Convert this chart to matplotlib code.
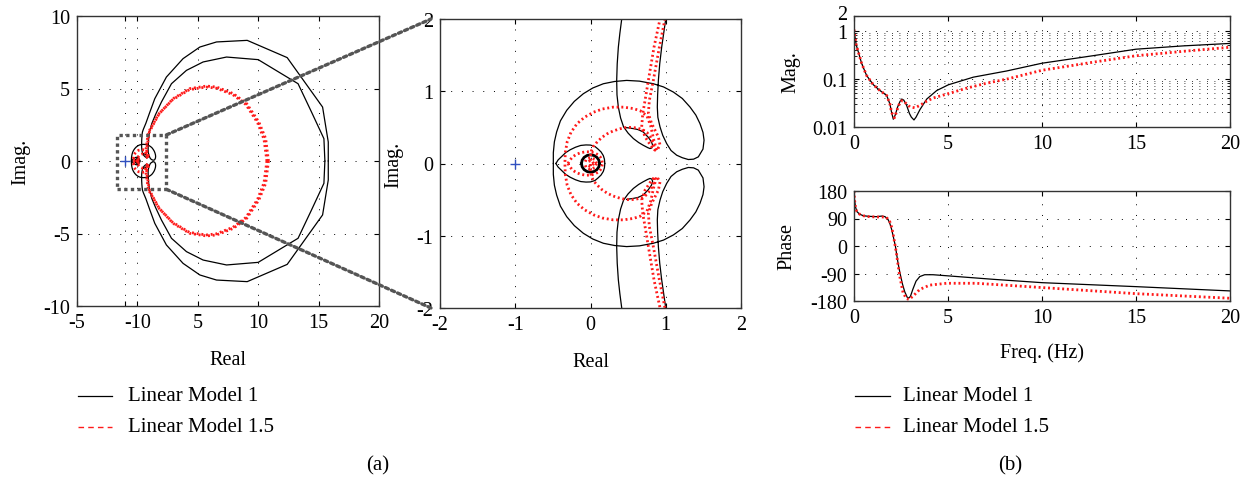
import numpy as np
import matplotlib
matplotlib.use("Agg")
import matplotlib.pyplot as plt
import matplotlib.transforms as mtransforms
from matplotlib.lines import Line2D
from matplotlib.patches import Rectangle, ConnectionPatch
from matplotlib.ticker import LogLocator, NullFormatter, FixedLocator, FixedFormatter

plt.rcParams["font.family"] = ["Liberation Serif", "DejaVu Serif"]
plt.rcParams["font.size"] = 14.5
plt.rcParams["axes.unicode_minus"] = False

# Nyquist curves, upper half (the lower half is the mirror image)
# Linear Model 1, outer loop
bo_x = [15.8, 15.8, 15.33, 12.4, 9.09, 6.55, 5.17, 3.78, 2.40, 1.44, 1.0, 0.7, 0.5, 0.415,
        0.39, 0.37, 0.355, 0.348, 0.352, 0.37, 0.40, 0.44, 0.50, 0.57, 0.64, 0.70, 0.76,
        0.79, 0.815, 0.826, 0.81, 0.77, 0.70, 0.63, 0.57, 0.52, 0.48]
bo_y = [0.0, 1.31, 3.72, 7.13, 8.32, 8.21, 7.86, 7.06, 5.79, 4.30, 3.3, 2.6, 2.2, 2.0,
        1.8, 1.61, 1.38, 1.15, 0.95, 0.78, 0.63, 0.506, 0.42, 0.345, 0.29, 0.253, 0.22,
        0.207, 0.215, 0.253, 0.30, 0.36, 0.437, 0.47, 0.483, 0.49, 0.497]
# Linear Model 1, inner loop (with the lobe and the circle round the origin)
bi_x = [15.52, 15.44, 14.4, 13.3, 10.0, 7.38, 5.44, 4.06, 2.82, 1.99, 1.5, 1.2, 1.0,
        0.975, 0.946, 0.92, 0.902, 0.892, 0.888, 0.895, 0.924, 0.96, 1.012, 1.07, 1.145,
        1.22, 1.30, 1.37, 1.433, 1.495, 1.509, 1.495, 1.455, 1.40, 1.322, 1.22, 1.101,
        0.97, 0.835, 0.65, 0.48, 0.32, 0.171, 0.03, -0.095, -0.215, -0.316, -0.40, -0.45,
        -0.48, -0.494, -0.494]
bi_y = [0.0, 1.54, 3.4, 5.33, 6.99, 7.17, 6.83, 6.25, 5.33, 4.07, 3.2, 2.6, 2.0,
        1.82, 1.61, 1.38, 1.15, 0.95, 0.78, 0.64, 0.506, 0.39, 0.276, 0.18, 0.115,
        0.08, 0.055, 0.06, 0.092, 0.2, 0.322, 0.43, 0.552, 0.67, 0.782, 0.90, 0.989,
        1.06, 1.104, 1.14, 1.15, 1.135, 1.104, 1.045, 0.966, 0.86, 0.736, 0.59, 0.437,
        0.3, 0.15, 0.0]
bov_x = [-0.46, -0.43, -0.38, -0.33, -0.27, -0.20, -0.13, -0.06, 0.0, 0.06, 0.10, 0.14,
         0.17, 0.185, 0.19]
bov_y = [0.0, 0.05, 0.10, 0.15, 0.19, 0.225, 0.25, 0.257, 0.255, 0.235, 0.20, 0.16,
         0.11, 0.06, 0.0]
bring_x = [0.12, 0.111, 0.085, 0.046, 0.0, -0.046, -0.085, -0.111, -0.12]
bring_y = [0.0, 0.046, 0.085, 0.111, 0.12, 0.111, 0.085, 0.046, 0.0]

# Linear Model 1.5
ro_x = [10.85, 10.62, 10.05, 9.05, 7.95, 6.55, 5.72, 4.34, 2.96, 1.8, 1.3, 0.99, 0.915,
        0.835, 0.782, 0.769, 0.813, 0.902, 0.924, 0.88, 0.84, 0.80, 0.75, 0.66, 0.57,
        0.44, 0.30, 0.16, 0.04, -0.08, -0.18, -0.26, -0.31, -0.335, -0.34]
ro_y = [0.0, 1.54, 2.69, 3.95, 4.64, 5.1, 5.17, 4.99, 4.3, 3.26, 2.5, 2.0, 1.61,
        1.15, 0.874, 0.69, 0.552, 0.368, 0.253, 0.18, 0.33, 0.52, 0.66, 0.73, 0.76,
        0.78, 0.78, 0.755, 0.71, 0.64, 0.55, 0.43, 0.3, 0.15, 0.0]
ri_x = [10.72, 10.48, 9.95, 8.98, 7.9, 6.5, 5.68, 4.3, 2.93, 1.74, 1.24, 0.924, 0.844,
        0.769, 0.725, 0.694, 0.68, 0.725, 0.813, 0.857, 0.835, 0.80, 0.75, 0.69, 0.62,
        0.55, 0.48, 0.39, 0.30, 0.22, 0.15, 0.09, 0.04, 0.01, 0.0, 0.0]
ri_y = [0.0, 1.5, 2.64, 3.9, 4.58, 5.03, 5.1, 4.92, 4.24, 3.22, 2.45, 2.0, 1.61,
        1.15, 0.874, 0.69, 0.506, 0.368, 0.23, 0.184, 0.276, 0.36, 0.43, 0.47, 0.49,
        0.50, 0.50, 0.48, 0.45, 0.41, 0.36, 0.30, 0.24, 0.17, 0.1, 0.0]
rov_x = [-0.30, -0.27, -0.24, -0.19, -0.13, -0.06, 0.0, 0.06, 0.1, 0.13, 0.15, 0.16]
rov_y = [0.0, 0.05, 0.09, 0.125, 0.15, 0.162, 0.16, 0.145, 0.12, 0.09, 0.05, 0.0]
rc_x = [0.08, 0.057, 0.0, -0.057, -0.08]
rc_y = [0.0, 0.057, 0.08, 0.057, 0.0]
rc2_x = [0.04, 0.028, 0.0, -0.028, -0.04]
rc2_y = [0.0, 0.028, 0.04, 0.028, 0.0]

# Bode data
f_m1 = [0, 0.05, 0.12, 0.23, 0.41, 0.67, 1.03, 1.38, 1.74, 1.91, 2.0, 2.09, 2.2, 2.32, 2.45,
        2.54, 2.65, 2.8, 2.95, 3.05, 3.19, 3.3, 3.51, 3.87, 4.4, 5.02, 6.35, 8.12, 10.0,
        12.7, 15.0, 17.5, 20.0]
mag_m1 = [1.05, 0.75, 0.5, 0.36, 0.206, 0.117, 0.075, 0.057, 0.045, 0.03, 0.02, 0.0145,
          0.018, 0.026, 0.034, 0.038, 0.036, 0.028, 0.019, 0.016, 0.014, 0.016, 0.023,
          0.038, 0.057, 0.075, 0.108, 0.145, 0.21, 0.30, 0.41, 0.48, 0.54]
f_m15 = [0, 0.05, 0.12, 0.23, 0.41, 0.67, 1.03, 1.38, 1.74, 1.91, 2.0, 2.15, 2.25, 2.36,
         2.45, 2.54, 2.65, 2.8, 2.98, 3.24, 3.5, 3.85, 4.22, 5.0, 6.0, 7.0, 8.2, 10.0, 12.7,
         15.0, 17.5, 20.0]
mag_m15 = [1.05, 0.75, 0.5, 0.36, 0.206, 0.117, 0.075, 0.057, 0.045, 0.03, 0.02, 0.0155,
           0.02, 0.027, 0.032, 0.035, 0.034, 0.03, 0.026, 0.025, 0.028, 0.034, 0.04, 0.049,
           0.064, 0.08, 0.1, 0.15, 0.22, 0.30, 0.37, 0.45]
ph_f1 = [0, 0.03, 0.08, 0.15, 0.3, 0.5, 0.8, 1.19, 1.5, 1.65, 1.8, 1.9, 2.0, 2.1, 2.2, 2.34,
         2.45, 2.58, 2.7, 2.84, 2.92, 3.0, 3.14, 3.3, 3.5, 3.76, 4.2, 5.0, 7.4, 10.0, 15.0, 20.0]
ph_m1 = [180, 150, 128, 113, 104, 99, 97, 96, 98, 96, 88, 75, 55, 28, 0, -55, -90, -125,
         -150, -169, -170, -165, -140, -115, -100, -94, -94, -97.7, -109, -120, -133, -147]
ph_f15 = [0, 0.03, 0.08, 0.15, 0.3, 0.5, 0.8, 1.19, 1.5, 1.72, 1.9, 2.0, 2.08, 2.25, 2.43,
          2.61, 2.79, 2.93, 3.14, 3.5, 4.03, 4.92, 6.5, 10.0, 15.0, 20.0]
ph_m15 = [180, 150, 128, 113, 104, 99, 96, 95, 95, 94, 80, 62, 40, -21, -98, -153, -172,
          -175, -164, -142, -128, -122, -122, -136, -156, -171]

W, H = 1251, 481
fig = plt.figure(figsize=(W / 100, H / 100), dpi=100)


def px_axes(l, t, r, b):
    return fig.add_axes([l / W, 1 - b / H, (r - l) / W, (b - t) / H])


black = dict(color="black", lw=0.9)
red = dict(color="#ff1a1a", lw=2.0, ls=(0, (0.7, 1.0)))
grid_kw = dict(color="black", lw=0.7, ls=(0, (1, 10)))


def style(ax):
    ax.tick_params(direction="in", top=True, right=True, length=3.5, width=0.8, pad=5)
    for s in ax.spines.values():
        s.set_linewidth(1.0)
        s.set_color("#333333")


def nyquist(ax):
    for xs, ys in [(bo_x, bo_y), (bi_x, bi_y), (bov_x, bov_y)]:
        ax.plot(xs, ys, **black)
        ax.plot(xs, [-v for v in ys], **black)
    ax.plot(bring_x, bring_y, color="black", lw=2.0)
    ax.plot(bring_x, [-v for v in bring_y], color="black", lw=2.0)
    for xs, ys in [(ro_x, ro_y), (ri_x, ri_y), (rov_x, rov_y), (rc_x, rc_y), (rc2_x, rc2_y)]:
        ax.plot(xs, ys, **red)
        ax.plot(xs, [-v for v in ys], **red)
    ax.plot([-1], [0], marker="+", color="#3050c0", ms=7, mew=1.0)


# (a) full Nyquist plot
ax1 = px_axes(77, 17, 379, 307)
nyquist(ax1)
ax1.set_xlim(-5, 20)
ax1.set_ylim(-10, 10)
ax1.set_xticks([-5, -1, 0, 5, 10, 15, 20])
ax1.set_xticklabels(["-5", "", "-10", "5", "10", "15", "20"])
ax1.set_yticks([-10, -5, 0, 5, 10])
ax1.grid(True, **grid_kw)
style(ax1)
ax1.set_xlabel("Real", labelpad=13)
ax1.set_ylabel("Imag.", labelpad=9)

# zoom box on the origin
ax1.add_patch(Rectangle((-1.7, -1.95), 4.1, 3.75, fill=False, ec="#555555", lw=2.4,
                        ls=(0, (1, 1)), zorder=5))

# (a) zoomed Nyquist plot
ax2 = px_axes(440, 20, 741, 309)
nyquist(ax2)
ax2.set_xlim(-2, 2)
ax2.set_ylim(-2, 2)
ax2.set_xticks([-2, -1, 0, 1, 2])
ax2.set_yticks([-2, -1, 0, 1, 2])
ax2.grid(True, **grid_kw)
style(ax2)
ax2.set_xlabel("Real", labelpad=13)
ax2.set_ylabel("Imag.", labelpad=9)

for yA, yB in [(1.8, 1.0), (-1.95, 0.0)]:
    con = ConnectionPatch(xyA=(2.4, yA), coordsA=ax1.transData,
                          xyB=(-0.03, yB), coordsB=ax2.transAxes,
                          color="#555555", lw=2.4, ls=(0, (1, 1)), zorder=10)
    fig.add_artist(con)

# (b) magnitude
ax3 = px_axes(854, 17, 1230, 128)
ax3.plot(f_m1, mag_m1, **black)
ax3.plot(f_m15, mag_m15, **red)
ax3.set_yscale("log")
ax3.set_xlim(0, 20)
ax3.set_ylim(0.01, 2)
ax3.yaxis.set_major_locator(FixedLocator([0.01, 0.1, 1, 2]))
ax3.yaxis.set_major_formatter(FixedFormatter(["0.01", "0.1", "1", "2"]))
ax3.yaxis.set_minor_locator(LogLocator(subs=np.arange(2, 10), numticks=10))
ax3.yaxis.set_minor_formatter(NullFormatter())
ax3.set_xticks([0, 5, 10, 15, 20])
ax3.grid(True, which="major", **grid_kw)
ax3.grid(True, which="minor", axis="y", color="black", lw=0.6, ls=(0, (1, 8)))
style(ax3)
ax3.tick_params(which="minor", direction="in", right=True, length=2)
ax3.set_ylabel("Mag.", labelpad=8)
# lift the top label a little so it clears the "1" below it
fig.canvas.draw()
top_lbl = ax3.get_yticklabels()[-1]
top_lbl.set_transform(top_lbl.get_transform()
                      + mtransforms.ScaledTranslation(0, 3 / 72, fig.dpi_scale_trans))

# (b) phase
ax4 = px_axes(854, 192, 1230, 302)
ax4.plot(ph_f1, ph_m1, **black)
ax4.plot(ph_f15, ph_m15, **red)
ax4.set_xlim(0, 20)
ax4.set_ylim(-180, 180)
ax4.set_yticks([-180, -90, 0, 90, 180])
ax4.set_xticks([0, 5, 10, 15, 20])
ax4.grid(True, **grid_kw)
style(ax4)
ax4.set_xlabel("Freq. (Hz)", labelpad=11)
ax4.set_ylabel("Phase", labelpad=10)

# legends
for x0, x1, xt in [(78, 112, 128), (855, 890, 903)]:
    for yy, kw, label in [(397, dict(color="black", lw=0.9), "Linear Model 1"),
                          (428, dict(color="#ff1a1a", lw=1.0, ls=(0, (4, 3))), "Linear Model 1.5")]:
        fig.add_artist(Line2D([x0 / W, x1 / W], [1 - yy / H, 1 - yy / H],
                              transform=fig.transFigure, **kw))
        fig.text(xt / W, 1 - yy / H, label, ha="left", va="center", fontsize=15)

fig.text(378 / W, 1 - 466 / H, "(a)", ha="center", va="center", fontsize=15)
fig.text(1010 / W, 1 - 466 / H, "(b)", ha="center", va="center", fontsize=15)

fig.savefig("out.png", dpi=100)
